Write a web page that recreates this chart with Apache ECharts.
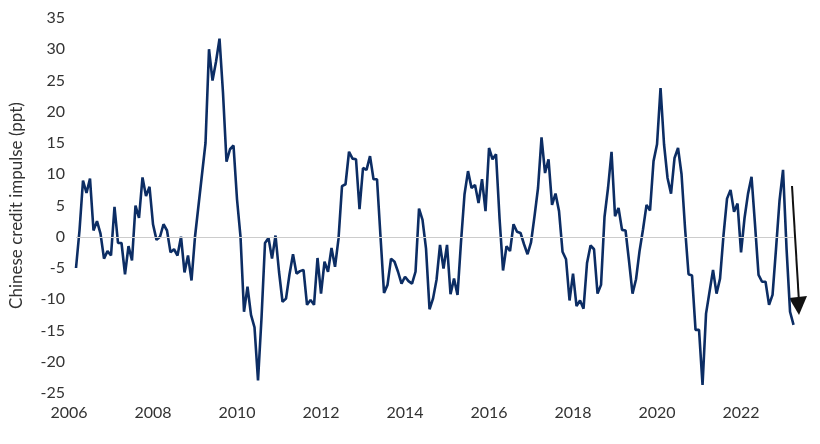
<!DOCTYPE html>
<html><head><meta charset="utf-8">
<script src="https://cdn.jsdelivr.net/npm/echarts@6/dist/echarts.min.js"></script>
<style>html,body{margin:0;padding:0;background:#fff}#c{width:820px;height:444px}</style>
</head><body><div id="c"></div>
<script>
// monthly values starting March 2006
const startYear = 2006, startMonth = 2; // 0-based month index (Mar)
const impulse = [
-5,1,9,7,9.3,1,2.5,0.5,-3.5,-2.3,-3,4.8,-1,-1,-6,-1.5,-3.8,5,3,9.5,6.5,8,2,-0.5,0,2,1,-2.5,-2,-3,0,-5.7,-3,-7,0,5,10,15,30,25,28,31.7,23,12,14,14.6,6,0,-12,-8,-12.5,-14.5,-23,-13,-1,
-0.2,-3.5,0.2,-5.6,-10.4,-9.9,-6,-2.8,-5.9,-5.5,-5.3,-10.9,-10.1,-10.9,-3.4,-9.1,-4,-5.6,-1.8,-4.8,-0.3,8.1,8.4,13.6,12.5,12.4,4.4,11,10.7,12.9,9.2,9.2,0,-9,-7.7,-3.5,-4,-5.6,-7.5,-6.4,-7.1,
-7.5,-5.6,4.5,2.7,-1.9,-11.6,-9.9,-6.9,-1.3,-5.1,-1.3,-9.2,-6.7,-9.3,-0.8,
6.8,10.5,7.8,8.3,5.4,9.2,4.1,14.2,12.4,13.2,3,-5.4,-1.5,-2.3,2,0.8,0.6,-1.2,-2.8,-0.9,3.3,7.8,15.9,10.2,12.4,5.1,6.9,4.1,-2.4,-3.6,-10.2,-5.9,-11.1,-10.2,-11.5,-4.2,-1.4,-2,-9.1,-7.7,3.2,7.8,13.6,3.3,4.6,1.1,1,-3.9,-9.1,-6.8,-2.3,1.2,5.1,4.2,12.1,14.8,23.8,14.8,9.4,6.9,12.6,14.2,10,1.4,
-6,-6.2,-14.9,-14.9,-23.7,-12.3,-8.8,-5.3,-9.1,-6.7,0.3,6.1,7.5,4,5.3,-2.5,3,6.9,9.6,1.9,-6.1,-7.2,-7.2,-10.9,-9.3,-1.9,5.8,10.7,-1.9,-12,-14.1
];
const yearTicks = [2006,2008,2010,2012,2014,2016,2018,2020,2022];
const yTicks = [-25,-20,-15,-10,-5,0,5,10,15,20,25,30,35];

const pts = impulse.map((v,i)=>[startYear + (startMonth+i)/12, v]);
const chart = echarts.init(document.getElementById('c'));
chart.setOption({
  animation:false,
  grid:{left:60,right:0,top:18,bottom:51},
  xAxis:{type:'value',min:2006,max:2023.88,
    axisLine:{show:false},axisTick:{show:false},splitLine:{show:false},
    axisLabel:{customValues:yearTicks,fontSize:16,color:'#333',fontFamily:'Lato',margin:12,formatter:v=>String(v)}},
  yAxis:{type:'value',min:-25,max:35,interval:5,
    name:'Chinese credit impulse (ppt)',nameLocation:'middle',nameGap:44,
    nameTextStyle:{fontSize:17,color:'#333',fontFamily:'Lato'},
    axisLine:{show:false},axisTick:{show:false},splitLine:{show:false},
    axisLabel:{fontSize:16,color:'#333',fontFamily:'Lato',margin:4}},
  series:[{type:'line',data:pts,showSymbol:false,
    lineStyle:{color:'#0c2d64',width:2.6},
    markLine:{silent:true,symbol:'none',label:{show:false},
      lineStyle:{color:'#cccccc',width:1.2,type:'solid'},
      data:[[{coord:[pts[0][0],0]},{coord:[pts[pts.length-1][0],0]}]]}}],
  graphic:[
    {type:'line',shape:{x1:792,y1:186,x2:799,y2:302},style:{stroke:'#111',lineWidth:2}},
    {type:'polygon',shape:{points:[[789,298],[807,296],[799,315]]},style:{fill:'#111'}}
  ]
});
</script></body></html>
